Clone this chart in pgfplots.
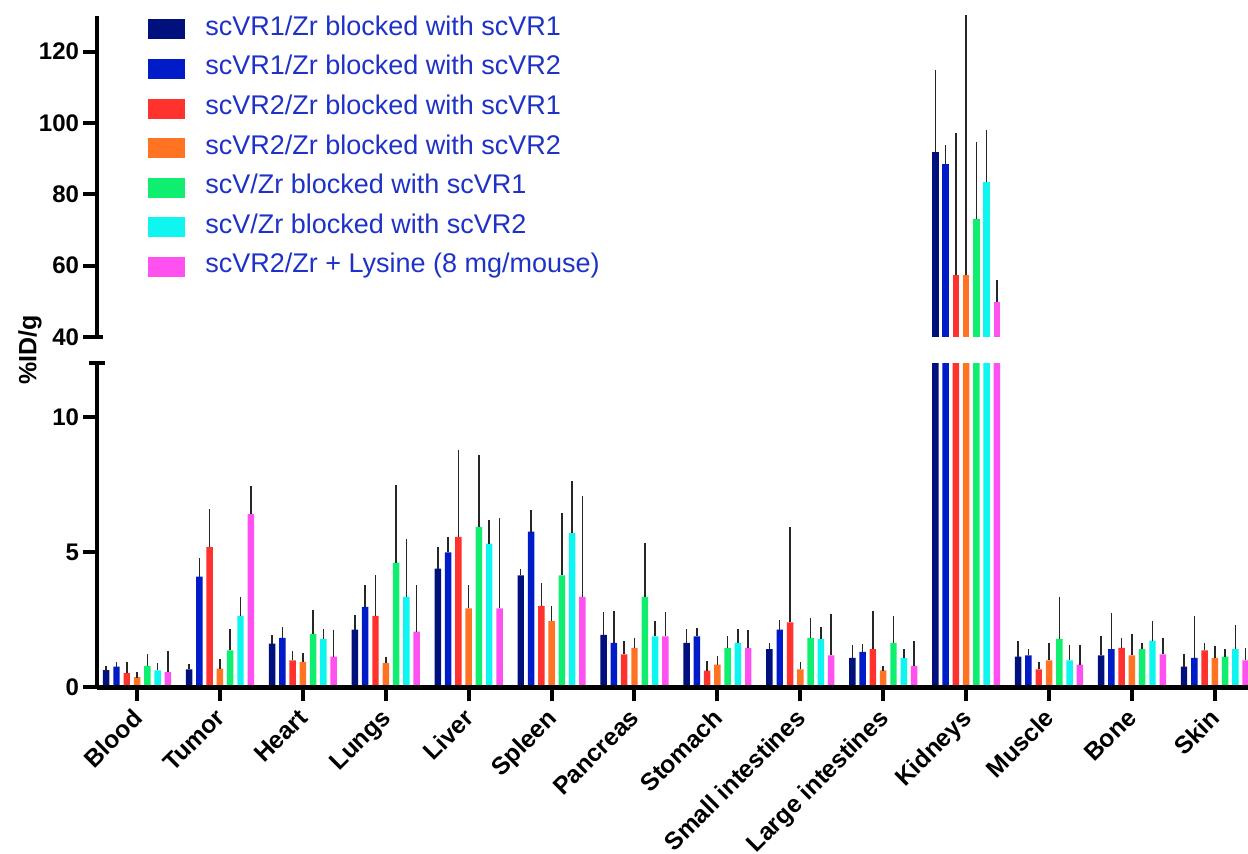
\documentclass[border=0pt]{standalone}
\usepackage{pgfplots}
\pgfplotsset{compat=1.18}
\usepackage{pgfplotstable}
\usepackage{fontspec}
\setmainfont{Liberation Sans}

\definecolor{cnavy}{RGB}{0,16,125}
\definecolor{cblue}{RGB}{0,28,200}
\definecolor{cred}{RGB}{255,50,45}
\definecolor{corange}{RGB}{255,115,35}
\definecolor{cgreen}{RGB}{16,238,112}
\definecolor{ccyan}{RGB}{15,245,240}
\definecolor{cpink}{RGB}{255,80,240}
\definecolor{legblue}{RGB}{30,50,200}

\pgfplotstableread{
x a ae b be c ce d de e ee f fe g ge
0 0.64 0.06 0.77 0.08 0.53 0.32 0.38 0.08 0.80 0.32 0.63 0.17 0.58 0.67
1 0.67 0.11 4.11 0.57 5.20 1.30 0.70 0.25 1.37 0.70 2.65 0.60 6.42 0.93
2 1.62 0.22 1.84 0.28 1.00 0.25 0.95 0.22 1.99 0.79 1.80 0.26 1.14 0.87
3 2.14 0.45 2.99 0.69 2.65 1.41 0.90 0.14 4.62 2.78 3.36 2.04 2.07 1.61
4 4.40 0.70 5.00 0.47 5.58 3.13 2.93 0.75 5.95 2.54 5.33 0.76 2.93 3.24
5 4.15 0.13 5.77 0.69 3.02 0.75 2.46 0.45 4.15 2.21 5.72 1.82 3.36 3.62
6 1.95 0.73 1.65 1.08 1.23 0.37 1.47 0.27 3.36 1.87 1.89 0.46 1.89 0.79
7 1.65 0.41 1.89 0.22 0.62 0.27 0.85 0.22 1.47 0.32 1.65 0.41 1.47 0.54
8 1.42 0.12 2.14 0.26 2.41 3.43 0.67 0.17 1.84 0.62 1.80 0.32 1.19 1.41
9 1.10 0.36 1.32 0.19 1.42 1.31 0.63 0.07 1.65 0.89 1.10 0.22 0.80 0.80
10 91.9 22.2 88.4 4.7 57.3 39.1 57.3 72.5 73.0 21.0 83.4 13.9 49.8 5.3
11 1.14 0.46 1.19 0.13 0.67 0.17 1.00 0.56 1.80 1.45 1.00 0.46 0.85 0.61
12 1.19 0.60 1.42 1.22 1.47 0.27 1.19 0.70 1.42 0.14 1.74 0.61 1.23 0.51
13 0.77 0.37 1.10 1.44 1.37 0.19 1.10 0.32 1.14 0.18 1.42 0.80 1.00 0.37
}\datatable

\newcommand{\series}[3]{%
  \addplot[ybar, bar width=0.078, bar shift=0pt, fill=#2, draw=none,
    error bars/.cd, y dir=plus, y explicit,
    error bar style={line width=0.75pt, black!85},
    error mark options={line width=0.75pt, black!85, mark size=1.4pt}]
    table[x expr=\thisrow{x}+#3, y=#1, y error=#1e] {\datatable};}
\newcommand{\allseries}{%
  \series{a}{cnavy}{-0.372}
  \series{b}{cblue}{-0.248}
  \series{c}{cred}{-0.124}
  \series{d}{corange}{0}
  \series{e}{cgreen}{0.124}
  \series{f}{ccyan}{0.248}
  \series{g}{cpink}{0.372}}

\pgfplotsset{
  brk/.style={
    scale only axis, width=575.5pt,
    xmin=-0.483, xmax=13.40,
    axis on top,
    tick style={line width=2pt, black},
    major tick length=6.8pt,
    ytick pos=left,
    /pgf/number format/assume math mode=true,
    yticklabel style={font=\fontsize{12}{12}\selectfont\bfseries, inner sep=2pt},
    clip=true,
  }
}

\begin{document}
\begin{tikzpicture}
% top axis (40 - 130)
\begin{axis}[brk,
  at={(48.5pt,258.5pt)}, anchor=south west,
  height=160.5pt,
  ymin=40, ymax=130,
  restrict y to domain=39:1000,
  axis x line=none, axis y line=left,
  axis line style={-, line width=2.2pt, black},
  y axis line style={-},
  tick align=outside,
  ytick={40,60,80,100,120},
  extra y ticks={40}, extra y tick labels={},
  extra y tick style={tick align=inside, major tick length=3pt},
  legend entries={scVR1/Zr blocked with scVR1,scVR1/Zr blocked with scVR2,scVR2/Zr blocked with scVR1,scVR2/Zr blocked with scVR2,scV/Zr blocked with scVR1,scV/Zr blocked with scVR2,scVR2/Zr + Lysine (8 mg/mouse)},
  legend style={at={(axis description cs:0,1)}, anchor=north west,
    xshift=25.5pt, yshift=0pt, draw=none, fill=none, inner sep=0pt,
    font=\fontsize{13.5}{13.5}\selectfont, text=legblue,
    row sep=6.8pt,
    nodes={inner sep=0pt, text height=9.5pt, text depth=3.5pt},
    /tikz/every odd column/.append style={column sep=10pt}},
  legend cell align=left,
  legend image code/.code={\fill[#1] (0pt,-5pt) rectangle (18.5pt,5pt);},
]
\allseries
\end{axis}
% bottom axis (0 - 12)
\begin{axis}[brk,
  at={(48.5pt,83.25pt)}, anchor=south west,
  height=162pt,
  ymin=0, ymax=12,
  axis x line=bottom, axis y line=left,
  axis line style={-, line width=2.2pt, black},
  x axis line style={-}, y axis line style={-},
  tick align=outside,
  ytick={0,5,10},
  extra y ticks={12}, extra y tick labels={},
  extra y tick style={tick align=center, major tick length=7.5pt},
  xtick={0,...,13},
  xticklabels={Blood,Tumor,Heart,Lungs,Liver,Spleen,Pancreas,Stomach,Small intestines,Large intestines,Kidneys,Muscle,Bone,Skin},
  xticklabel style={xshift=-3pt, yshift=-1.5pt, rotate=45, anchor=north east, font=\fontsize{12.3}{12.3}\selectfont\bfseries, inner sep=1pt},
  xtick pos=bottom,
]
\allseries
\end{axis}
\node[rotate=90, font=\fontsize{12.5}{12.5}\selectfont\bfseries] at (15pt,252pt) {\%ID/g};
\pgfresetboundingbox
\useasboundingbox (0,0) rectangle (624pt,427pt);
\end{tikzpicture}
\end{document}
